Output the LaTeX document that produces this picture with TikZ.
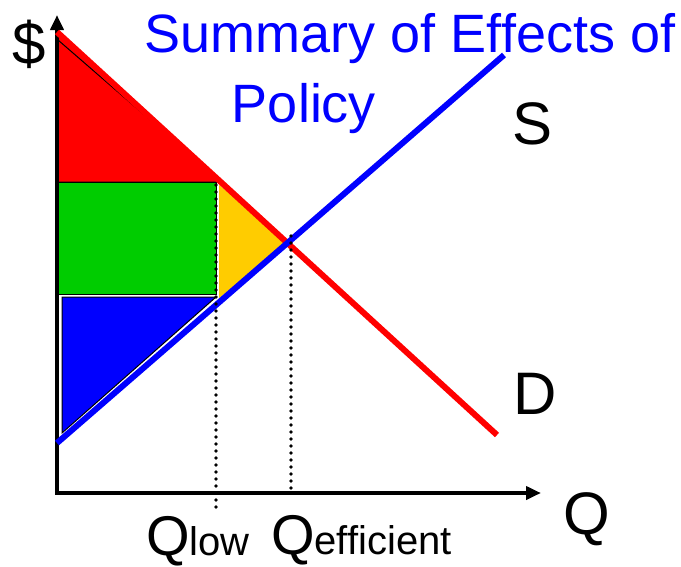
\documentclass[tikz,border=0pt]{standalone}
\usepackage{fontspec}
\setmainfont{Liberation Sans}
\usetikzlibrary{arrows.meta}
\definecolor{demandred}{RGB}{255,0,0}
\definecolor{supplyblue}{RGB}{0,0,255}
\definecolor{surplusgreen}{RGB}{0,204,0}
\definecolor{losyellow}{RGB}{255,204,0}
\newcommand{\subsize}{\fontsize{40}{40}\selectfont}
\tikzset{
    curveline/.style={line width=6pt},
    axisline/.style={line width=4pt, {Triangle[length=15pt,width=13pt]}-{Triangle[length=15pt,width=13pt]}},
    guideline/.style={line width=3.6pt, line cap=round, dash pattern=on 0pt off 7pt},
    areaedge/.style={draw=black, line width=1pt},
    axislabel/.style={font=\fontsize{60}{60}\selectfont, anchor=base, inner sep=0pt},
    qlabel/.style={font=\fontsize{56}{56}\selectfont, anchor=base west, inner sep=0pt},
    titletext/.style={font=\fontsize{54}{54}\selectfont, text=supplyblue, anchor=base, inner sep=0pt}
}
\begin{document}
\begin{tikzpicture}[x=1pt, y=-1pt]
    \useasboundingbox (0,0) rectangle (681,566);
    % key points
    \coordinate (origin) at (57,493);
    \coordinate (ytip) at (57,15);
    \coordinate (xtip) at (541,493);
    \coordinate (dstart) at (57,32);
    \coordinate (dend) at (497,435);
    \coordinate (sstart) at (57,443);
    \coordinate (send) at (504,55);
    \coordinate (lowtop) at (216,185);
    \coordinate (lowbot) at (216,508);
    \coordinate (efftop) at (291,236);
    \coordinate (effbot) at (291,494);

    % areas
    \fill[demandred] (57,32) -- (221,180) -- (221,182) -- (57,182) -- cycle;
    \draw[areaedge] (58,40) -- (222,182) -- (58,182);
    \filldraw[fill=surplusgreen, areaedge] (57,182) rectangle (216,294);
    \filldraw[fill=losyellow, draw=white, line width=1.5pt] (218,183) -- (291,242) -- (218,300) -- cycle;
    \draw[white, line width=4pt, line join=round] (62,297) -- (216,297) -- (62,433) -- cycle;
    \filldraw[fill=supplyblue, areaedge] (62,297) -- (216,297) -- (62,433) -- cycle;

    % axes and curves
    \draw[axisline] (ytip) -- (origin) -- (xtip);
    \draw[curveline, demandred] (dstart) -- (dend);
    \draw[curveline, supplyblue] (sstart) -- (send);
    \draw[guideline] (lowtop) -- (lowbot);
    \draw[guideline] (efftop) -- (effbot);

    % labels
    \node[axislabel] (dollar) at (29,64) {\$};
    \node[axislabel] (slabel) at (533,144) {S};
    \node[axislabel] (dlabel) at (535,414) {D};
    \node[axislabel] (qaxis) at (587,534) {Q};
    \node[qlabel] (qlow) at (146,555) {Q{\subsize low}};
    \node[qlabel] (qeff) at (271,554) {Q{\subsize efficient}};
    \node[titletext] (title) at (410,52) {Summary of Effects of};
    \node[titletext] (titletwo) at (304,122) {Policy};
\end{tikzpicture}
\end{document}
